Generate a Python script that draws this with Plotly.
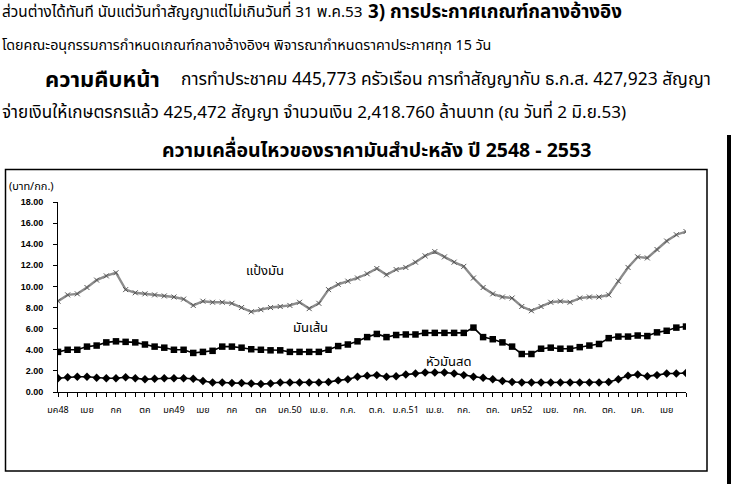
import plotly.graph_objects as go

months = list(range(66))
starch = [8.6, 9.2, 9.3, 9.9, 10.6, 11.0, 11.3, 9.7, 9.4, 9.3, 9.2, 9.1, 9.0, 8.8, 8.2, 8.6, 8.5, 8.5, 8.4, 8.0,
          7.6, 7.8, 8.0, 8.1, 8.2, 8.5, 7.9, 8.4, 9.7, 10.2, 10.5, 10.8, 11.2, 11.7, 11.1, 11.6, 11.8, 12.3, 12.9, 13.3,
          12.8, 12.3, 11.9, 10.8, 9.9, 9.3, 9.0, 8.9, 8.1, 7.7, 8.1, 8.5, 8.6, 8.5, 8.9, 9.0, 9.0, 9.2, 10.5, 11.8,
          12.8, 12.7, 13.5, 14.3, 14.9, 15.2]
chips = [3.8, 4.0, 4.0, 4.3, 4.4, 4.7, 4.8, 4.75, 4.7, 4.5, 4.3, 4.2, 4.0, 4.0, 3.7, 3.8, 3.9, 4.3, 4.3, 4.2,
         4.05, 4.0, 3.95, 3.95, 3.8, 3.8, 3.8, 3.8, 4.0, 4.35, 4.5, 4.8, 5.2, 5.5, 5.2, 5.4, 5.45, 5.45, 5.6, 5.6,
         5.6, 5.6, 5.6, 6.1, 5.2, 5.0, 4.7, 4.3, 3.6, 3.6, 4.1, 4.2, 4.1, 4.1, 4.25, 4.4, 4.55, 5.1, 5.25, 5.25,
         5.35, 5.3, 5.65, 5.8, 6.1, 6.2]
fresh = [1.3, 1.4, 1.45, 1.45, 1.35, 1.3, 1.3, 1.4, 1.3, 1.2, 1.25, 1.3, 1.3, 1.3, 1.25, 1.05, 0.9, 0.9, 0.85, 0.85,
         0.8, 0.75, 0.8, 0.9, 0.9, 0.9, 0.9, 0.9, 0.95, 1.1, 1.2, 1.45, 1.55, 1.6, 1.45, 1.5, 1.65, 1.75, 1.85, 1.85,
         1.85, 1.75, 1.6, 1.45, 1.35, 1.2, 1.05, 0.95, 0.9, 0.9, 0.9, 0.9, 0.9, 0.9, 0.9, 0.9, 0.9, 0.95, 1.2, 1.55,
         1.65, 1.5, 1.6, 1.75, 1.75, 1.8]
tick_labels = ["มค48", "เมย", "กค", "ตค", "มค49", "เมย", "กค", "ตค", "มค.50", "เม.ย.", "ก.ค.", "ต.ค.",
               "ม.ค.51", "เม.ย.", "กค.", "ตค.", "มค52", "เมย.", "กค.", "ตค.", "มค.", "เมย"]
tick_positions = list(range(0, 66, 3))[:len(tick_labels)]
series_names = ["แป้งมัน", "มันเส้น", "หัวมันสด"]

W, H = 731, 484
L, R, T, B = 58, 686, 202, 392


def px(x):
    return (x - L) / (R - L)


def py(y):
    return (B - y) / (B - T)


FONT = "Noto Sans Thai, Tahoma, DejaVu Sans, Liberation Sans, sans-serif"

fig = go.Figure()
fig.add_trace(go.Scatter(x=months, y=starch, mode="lines+markers", name=series_names[0],
                         line=dict(color="#8c8c8c", width=2.4),
                         marker=dict(symbol="x-thin", size=5, line=dict(color="#555555", width=1))))
fig.add_trace(go.Scatter(x=months, y=chips, mode="lines+markers", name=series_names[1],
                         line=dict(color="black", width=1.6),
                         marker=dict(symbol="square", size=6.5, color="black")))
fig.add_trace(go.Scatter(x=months, y=fresh, mode="lines+markers", name=series_names[2],
                         line=dict(color="black", width=1.6),
                         marker=dict(symbol="diamond", size=6.5, color="black")))

# frame around the chart
fig.add_shape(type="rect", xref="paper", yref="paper", x0=px(5.5), x1=px(707), y0=py(471), y1=py(169.5),
              line=dict(color="black", width=1.5), fillcolor="rgba(0,0,0,0)")
# dark scan edge on the right
fig.add_shape(type="rect", xref="paper", yref="paper", x0=px(727), x1=px(731), y0=py(484), y1=py(135),
              line=dict(width=0), fillcolor="black")


def text(x, y, s, size=14, anchor="left", bold=False):
    fig.add_annotation(x=px(x), y=py(y), xref="paper", yref="paper", text=(f"<b>{s}</b>" if bold else s),
                       showarrow=False, xanchor=anchor, yanchor="middle",
                       font=dict(family=FONT, size=size, color="black"))


text(0, 12, "ส่วนต่างได้ทันที นับแต่วันทำสัญญาแต่ไม่เกินวันที่ 31 พ.ค.53", 15.3)
text(366, 12, "3) การประกาศเกณฑ์กลางอ้างอิง", 18.8, bold=True)
text(0, 46, "โดยคณะอนุกรรมการกำหนดเกณฑ์กลางอ้างอิงฯ พิจารณากำหนดราคาประกาศทุก 15 วัน", 14.3)
text(43, 80, "ความคืบหน้า", 22, bold=True)
text(179, 80, "การทำประชาคม 445,773 ครัวเรือน การทำสัญญากับ ธ.ก.ส. 427,923 สัญญา", 17.4)
text(0, 113, "จ่ายเงินให้เกษตรกรแล้ว 425,472 สัญญา จำนวนเงิน 2,418.760 ล้านบาท (ณ วันที่ 2 มิ.ย.53)", 17.1)
text(376, 151, "ความเคลื่อนไหวของราคามันสำปะหลัง ปี 2548 - 2553", 19.5, anchor="center", bold=True)
text(7, 186, "(บาท/กก.)", 11)
text(265, 271, series_names[0], 13, anchor="center")
text(310, 328, series_names[1], 13, anchor="center")
text(448, 362, series_names[2], 13, anchor="center")

fig.update_layout(
    width=W, height=H, autosize=False,
    margin=dict(l=L, r=W - R, t=T, b=H - B),
    paper_bgcolor="white", plot_bgcolor="white",
    showlegend=False,
    font=dict(family=FONT, color="black"),
)
fig.update_xaxes(range=[0, 65], tickvals=tick_positions, ticktext=tick_labels,
                 showgrid=False, zeroline=False, showline=True, linecolor="black", linewidth=1,
                 ticks="outside", ticklen=4, tickcolor="black", ticklabelstandoff=5,
                 tickfont=dict(family=FONT, size=9, color="black"),
                 minor=dict(tickvals=months, ticks="outside", ticklen=4, tickcolor="black"))
fig.update_yaxes(range=[0, 18], tickvals=[0, 2, 4, 6, 8, 10, 12, 14, 16, 18], tickformat=".2f",
                 showgrid=False, zeroline=False, showline=True, linecolor="black", linewidth=1,
                 ticks="outside", ticklen=4, tickcolor="black", ticklabelstandoff=8,
                 tickfont=dict(family="Liberation Sans Narrow, Liberation Sans, sans-serif", size=9,
                               color="black", weight="bold"))

fig.write_html("out.html", config={"displayModeBar": False},
               post_script="document.body.style.margin='0';")
